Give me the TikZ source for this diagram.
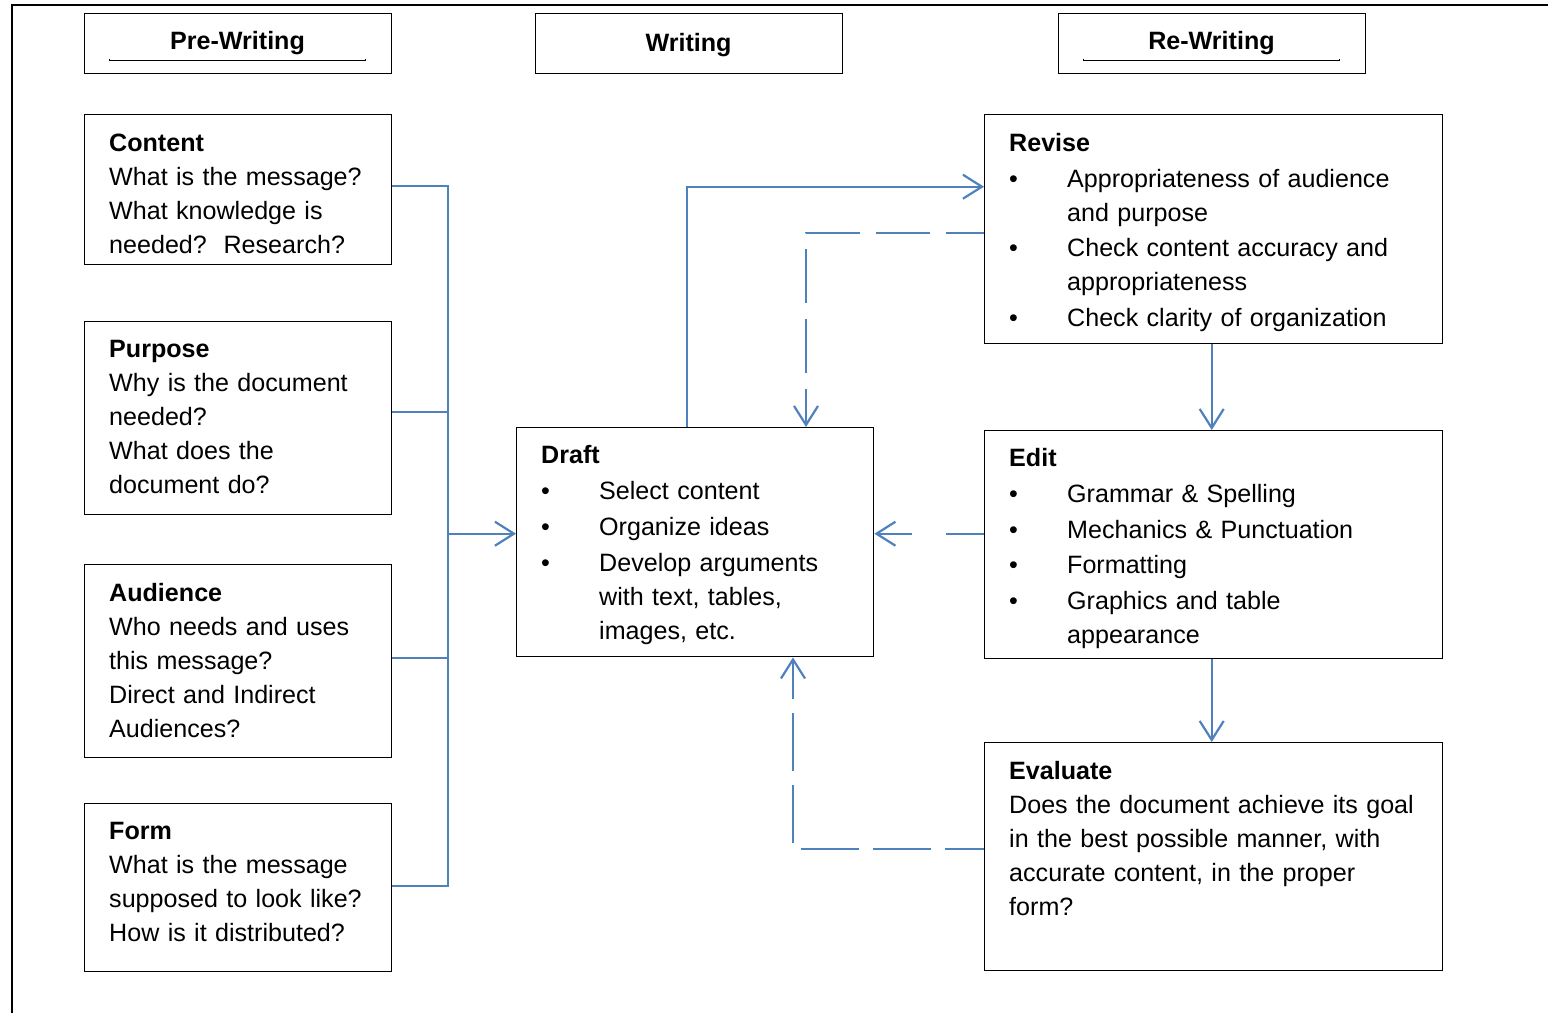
\documentclass[tikz,border=0pt]{standalone}
\usepackage{fontspec}
\setmainfont{Liberation Sans}
\usetikzlibrary{arrows.meta}
\definecolor{flowblue}{RGB}{79,129,189}
\newcommand\bitem{\makebox[58pt][l]{\textbullet}}
\newcommand\contline{\hspace*{58pt}}
\begin{document}
\begin{tikzpicture}[x=1pt,y=-1pt,
  box/.style={draw=black, line width=1.4pt, rectangle, inner sep=0pt, anchor=north west},
  txt/.style={anchor=base west, inner sep=0pt, text width=440pt, align=left, font=\fontsize{25.1}{34}\selectfont},
  head/.style={anchor=base, inner sep=0pt, font=\fontsize{25.1}{34}\selectfont\bfseries},
  conn/.style={draw=flowblue, line width=2.2pt},
  arr/.style={-{Straight Barb[length=19pt,width=24pt]}},
  dsh/.style={dash pattern=on 54pt off 16pt, dash phase=16pt}]
\useasboundingbox (0,0) rectangle (1548,1013);
% outer frame (partly visible)
\draw[line width=2pt] (12,1013) -- (12,5) -- (1548,5);

% header boxes
\node[box, minimum width=307pt, minimum height=60pt] (hpre) at (84,13) {};
\node[box, minimum width=307pt, minimum height=60pt] (hwri) at (535,13) {};
\node[box, minimum width=307pt, minimum height=60pt] (hre) at (1058,13) {};
\node[head] (tpre) at (237.5,49) {Pre-Writing};
\node[head] (twri) at (688.5,51) {Writing};
\node[head] (tre) at (1211.5,49) {Re-Writing};
\draw[line width=1pt] (109,58.5) -- (109,60.5) -- (365,60.5) -- (365,58.5);
\draw[line width=1pt] (1083,58.5) -- (1083,60.5) -- (1339,60.5) -- (1339,58.5);

% pre-writing boxes
\node[box, minimum width=307pt, minimum height=150pt] (content) at (84,114) {};
\node[box, minimum width=307pt, minimum height=193pt] (purpose) at (84,321) {};
\node[box, minimum width=307pt, minimum height=193pt] (audience) at (84,564) {};
\node[box, minimum width=307pt, minimum height=168pt] (form) at (84,803) {};
\node[txt] (tcontent) at (109,151) {\textbf{Content}\\What is the message?\\What knowledge is\\needed?\ \ Research?};
\node[txt] (tpurpose) at (109,357) {\textbf{Purpose}\\Why is the document\\needed?\\What does the\\document do?};
\node[txt] (taudience) at (109,601) {\textbf{Audience}\\Who needs and uses\\this message?\\Direct and Indirect\\Audiences?};
\node[txt] (tform) at (109,839) {\textbf{Form}\\What is the message\\supposed to look like?\\How is it distributed?};

% draft
\node[box, minimum width=357pt, minimum height=229pt] (draft) at (516,427) {};
\node[txt] (tdraft) at (541,463) {\textbf{Draft}\\[2pt]
\bitem Select content\\[2pt]
\bitem Organize ideas\\[2pt]
\bitem Develop arguments\\
\contline with text, tables,\\
\contline images, etc.};

% re-writing boxes
\node[box, minimum width=458pt, minimum height=229pt] (revise) at (984,114) {};
\node[box, minimum width=458pt, minimum height=228pt] (edit) at (984,430) {};
\node[box, minimum width=458pt, minimum height=228pt] (evaluate) at (984,742) {};
\node[txt] (trevise) at (1009,151) {\textbf{Revise}\\[2pt]
\bitem Appropriateness of audience\\
\contline and purpose\\[1pt]
\bitem Check content accuracy and\\
\contline appropriateness\\[2pt]
\bitem Check clarity of organization};
\node[txt] (tedit) at (1009,466) {\textbf{Edit}\\[2pt]
\bitem Grammar \& Spelling\\[2pt]
\bitem Mechanics \& Punctuation\\[1pt]
\bitem Formatting\\[2pt]
\bitem Graphics and table\\
\contline appearance};
\node[txt] (tevaluate) at (1009,779) {\textbf{Evaluate}\\Does the document achieve its goal\\in the best possible manner, with\\accurate content, in the proper\\form?};

% connectors: pre-writing bus
\coordinate (bt) at (448,186);
\coordinate (bb) at (448,886);
\coordinate (bp) at (448,412);
\coordinate (ba) at (448,658);
\draw[conn] (content.east |- bt) -- (bt) -- (bb) -- (form.east |- bb);
\draw[conn] (purpose.east |- bp) -- (bp);
\draw[conn] (audience.east |- ba) -- (ba);
\coordinate (dl) at ([yshift=8.5pt]draft.west);
\draw[conn,arr] (dl -| bt) -- (dl);

% draft -> revise
\coordinate (dtop) at ([xshift=171pt]draft.north west);
\coordinate (rin) at ([yshift=42.5pt]revise.west);
\draw[conn,arr] (dtop) |- (rin);
% revise -> draft (dashed)
\coordinate (rdash) at ([yshift=-3.5pt]revise.west);
\coordinate (dtop2) at ([xshift=290pt]draft.north west);
\draw[conn,arr,dsh] (rdash) -| (dtop2);
% revise -> edit -> evaluate
\draw[conn,arr] ([xshift=-2pt]revise.south) -- ([xshift=-2pt]edit.north);
\draw[conn,arr] ([xshift=-2pt]edit.south) -- ([xshift=-2pt]evaluate.north);
% edit -> draft (dashed)
\coordinate (eleft) at ([yshift=11pt]edit.west);
\draw[conn,arr,dash pattern=on 38pt off 34pt] (eleft) -- (eleft -| draft.east);
% evaluate -> draft (dashed)
\coordinate (evl) at ([yshift=8pt]evaluate.west);
\coordinate (dbot) at ([xshift=277pt]draft.south west);
\draw[conn,arr,dash pattern=on 58pt off 14pt, dash phase=19pt] (evl) -| (dbot);
\end{tikzpicture}
\end{document}
